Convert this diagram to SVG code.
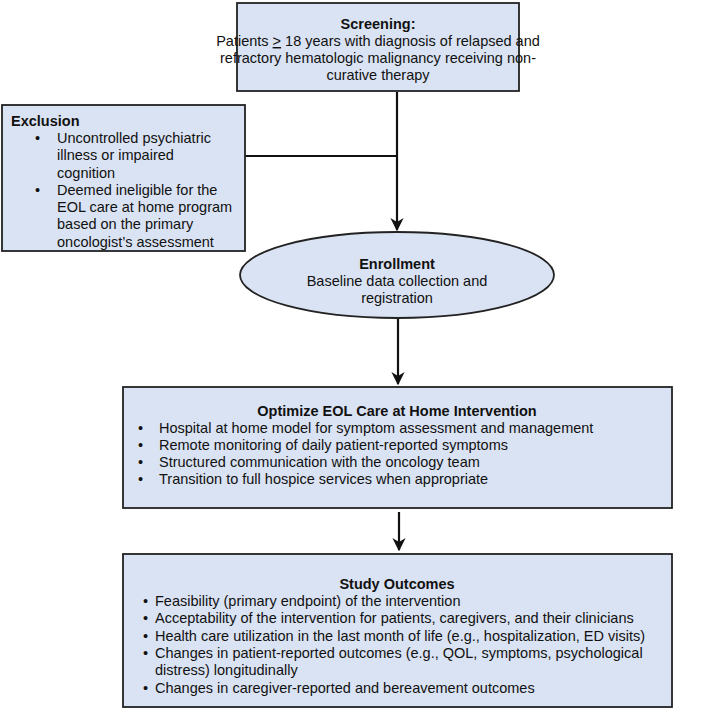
<svg xmlns="http://www.w3.org/2000/svg" width="711" height="710" viewBox="0 0 711 710">
<defs>
<style>
.box{fill:#dae3f3;stroke:#222;stroke-width:1.8}
.t{font-family:"Liberation Sans",Arial,sans-serif;font-size:14.5px;fill:#111}
.b{font-weight:bold}
.c{text-anchor:middle}
.ln{stroke:#111;stroke-width:2.2;fill:none}
</style>
<marker id="ah" viewBox="0 0 10 10" refX="9" refY="5" markerWidth="6" markerHeight="6" orient="auto" markerUnits="strokeWidth">
<path d="M0,0 L10,5 L0,10 L3,5 z" fill="#111"/>
</marker>
</defs>
<rect width="711" height="710" fill="#fff"/>
<g id="connectors">
<line class="ln" x1="397" y1="92" x2="397" y2="230" marker-end="url(#ah)"/>
<line class="ln" x1="245" y1="156" x2="397" y2="156"/>
<line class="ln" x1="398" y1="318" x2="398" y2="384" marker-end="url(#ah)"/>
<line class="ln" x1="399" y1="512" x2="399" y2="550" marker-end="url(#ah)"/>
</g>
<g id="screening">
<rect class="box" x="237" y="3" width="282" height="88"/>
<text class="t b c" x="378" y="29">Screening:</text>
<text class="t c" x="378" y="46">Patients <tspan text-decoration="underline">&gt;</tspan> 18 years with diagnosis of relapsed and</text>
<text class="t c" x="378" y="63">refractory hematologic malignancy receiving non-</text>
<text class="t c" x="378" y="80">curative therapy</text>
</g>
<g id="exclusion">
<rect class="box" x="2" y="105" width="243" height="146"/>
<text class="t b" x="11" y="126">Exclusion</text>
<text class="t" x="35" y="143">•</text>
<text class="t" x="57" y="143">Uncontrolled psychiatric</text>
<text class="t" x="57" y="160">illness or impaired</text>
<text class="t" x="57" y="178">cognition</text>
<text class="t" x="35" y="195">•</text>
<text class="t" x="57" y="195">Deemed ineligible for the</text>
<text class="t" x="57" y="212">EOL care at home program</text>
<text class="t" x="57" y="229">based on the primary</text>
<text class="t" x="57" y="247">oncologist’s assessment</text>
</g>
<g id="enrollment">
<ellipse class="box" cx="397" cy="275" rx="157" ry="43"/>
<text class="t b c" x="397" y="269">Enrollment</text>
<text class="t c" x="397" y="286">Baseline data collection and</text>
<text class="t c" x="397" y="303">registration</text>
</g>
<g id="intervention">
<rect class="box" x="123" y="387" width="549" height="121"/>
<text class="t b c" x="397" y="416">Optimize EOL Care at Home Intervention</text>
<text class="t" x="138" y="433">•</text>
<text class="t" x="159" y="433">Hospital at home model for symptom assessment and management</text>
<text class="t" x="138" y="450">•</text>
<text class="t" x="159" y="450">Remote monitoring of daily patient-reported symptoms</text>
<text class="t" x="138" y="467">•</text>
<text class="t" x="159" y="467">Structured communication with the oncology team</text>
<text class="t" x="138" y="484">•</text>
<text class="t" x="159" y="484">Transition to full hospice services when appropriate</text>
</g>
<g id="outcomes">
<rect class="box" x="123" y="554" width="549" height="153"/>
<text class="t b c" x="397" y="589">Study Outcomes</text>
<text class="t" x="143" y="606">•</text>
<text class="t" x="155" y="606">Feasibility (primary endpoint) of the intervention</text>
<text class="t" x="143" y="623">•</text>
<text class="t" x="155" y="623">Acceptability of the intervention for patients, caregivers, and their clinicians</text>
<text class="t" x="143" y="641">•</text>
<text class="t" x="155" y="641">Health care utilization in the last month of life (e.g., hospitalization, ED visits)</text>
<text class="t" x="143" y="658">•</text>
<text class="t" x="155" y="658">Changes in patient-reported outcomes (e.g., QOL, symptoms, psychological</text>
<text class="t" x="155" y="675">distress) longitudinally</text>
<text class="t" x="143" y="693">•</text>
<text class="t" x="155" y="693">Changes in caregiver-reported and bereavement outcomes</text>
</g>
</svg>
